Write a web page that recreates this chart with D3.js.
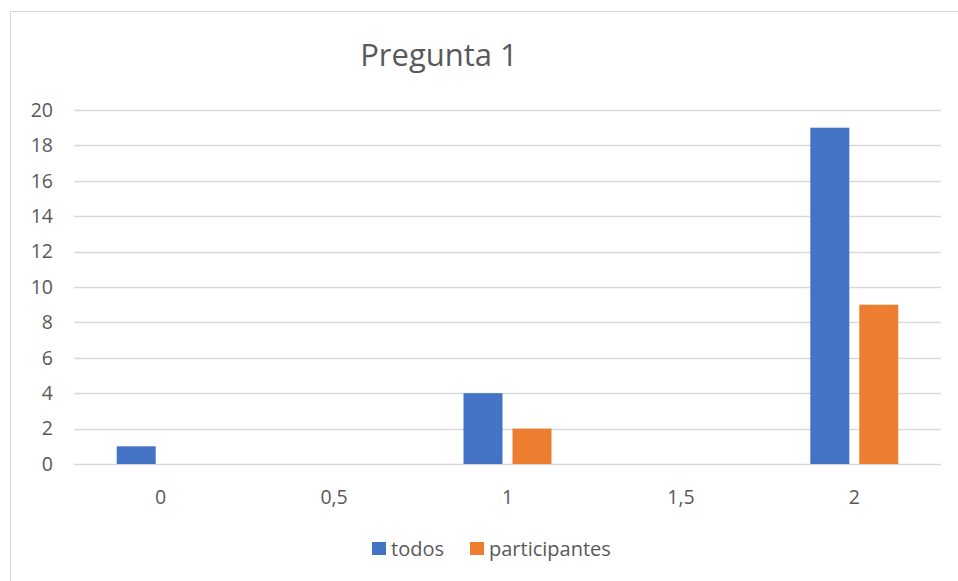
<!DOCTYPE html>
<html>
<head>
<meta charset="utf-8">
<script src="https://cdn.jsdelivr.net/npm/d3@7"></script>
<style>
  body { margin: 0; background: #fff; }
  text { font-family: "Open Sans", "Noto Sans", sans-serif; fill: #595959; }
</style>
</head>
<body>
<div id="chart"></div>
<script>
var categories = ["0", "0,5", "1", "1,5", "2"];
var seriesNames = ["todos", "participantes"];
var todos = [1, 0, 4, 0, 19];
var participantes = [0, 0, 2, 0, 9];
var yTicks = [0, 2, 4, 6, 8, 10, 12, 14, 16, 18, 20];
var colors = ["#4472c4", "#ed7d31"];

var svg = d3.select("#chart")
            .append("svg")
            .attr("width", 958)
            .attr("height", 581);

// chart area border (runs past the right / bottom edge)
svg.append("rect")
    .attr("x", 10.5).attr("y", 11.5)
    .attr("width", 1000).attr("height", 1000)
    .attr("fill", "none")
    .attr("stroke", "#d9d9d9");

var margin = {left: 74, right: 941, top: 110, bottom: 464};

var x = d3.scaleBand()
    .domain(categories)
    .range([margin.left, margin.right]);

var y = d3.scaleLinear()
    .domain([0, 20])
    .range([margin.bottom, margin.top]);

// gridlines
svg.append("g")
  .selectAll("line")
  .data(yTicks)
  .enter()
  .append("line")
    .attr("x1", margin.left).attr("x2", margin.right)
    .attr("y1", function(d) { return Math.round(y(d)) + 0.5; })
    .attr("y2", function(d) { return Math.round(y(d)) + 0.5; })
    .attr("stroke", "#d9d9d9")
    .attr("stroke-width", 1.5);

// y axis labels
var yAxis = svg.append("g")
    .attr("transform", "translate(" + 53 + ",0)")
    .call(d3.axisLeft(y).tickValues(yTicks).tickSize(0).tickPadding(0));
yAxis.select(".domain").remove();
yAxis.selectAll("text")
    .attr("font-size", 19.5)
    .attr("fill", "#595959")
    .style("font-family", "'Open Sans', sans-serif");

// x axis labels
var xAxis = svg.append("g")
    .attr("transform", "translate(0," + 464 + ")")
    .call(d3.axisBottom(x).tickSize(0).tickPadding(0));
xAxis.select(".domain").remove();
xAxis.selectAll("text")
    .attr("y", 40)
    .attr("dy", 0)
    .attr("font-size", 19.5)
    .attr("fill", "#595959")
    .style("font-family", "'Open Sans', sans-serif");

// bars
var barW = 39, gap = 10;
var data = [todos, participantes];
data.forEach(function(vals, s) {
  svg.append("g")
    .selectAll("rect")
    .data(vals)
    .enter()
    .append("rect")
      .attr("x", function(d, i) {
        var c = x(categories[i]) + x.bandwidth() / 2;
        return c - gap / 2 - barW + s * (barW + gap);
      })
      .attr("y", function(d) { return y(d); })
      .attr("width", barW)
      .attr("height", function(d) { return y(0) - y(d); })
      .attr("fill", colors[s]);
});

// title
svg.append("text")
    .attr("x", 439)
    .attr("y", 66)
    .attr("text-anchor", "middle")
    .attr("font-size", 31)
    .text("Pregunta 1");

// legend
var legendX = [372, 470];
seriesNames.forEach(function(name, i) {
  svg.append("rect")
    .attr("x", legendX[i]).attr("y", 542)
    .attr("width", 14).attr("height", 13)
    .attr("fill", colors[i]);
  svg.append("text")
    .attr("x", legendX[i] + 19)
    .attr("y", 556)
    .attr("font-size", 20)
    .text(name);
});
</script>
</body>
</html>
